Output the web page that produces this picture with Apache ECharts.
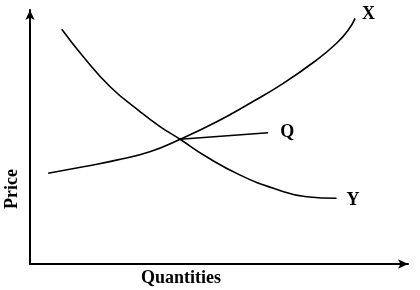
<!DOCTYPE html>
<html><head><meta charset="utf-8">
<script src="https://cdn.jsdelivr.net/npm/echarts@6/dist/echarts.min.js"></script>
<style>html,body{margin:0;padding:0;background:#fff}#c{width:420px;height:290px}</style>
</head><body><div id="c"></div>
<script>
// Supply curve X: [quantity, price]
const supplyX = [[4.8,35.7],[14.1,38.3],[22.9,40.9],[31.7,44.2],[39.7,49.1],[49.4,56.0],[58.2,63.3],[67.0,71.1],[75.8,80.3],[81.1,86.9],[84.2,92.1],[86.0,96.7]];
// Demand curve Y
const demandY = [[8.4,92.4],[14.1,81.6],[21.2,69.8],[29.1,60.0],[34.4,54.1],[39.7,49.1],[46.7,42.2],[55.6,35.0],[64.4,29.8],[73.2,26.5],[81.1,25.9]];
// Line Q from the intersection
const lineQ = [[39.7,49.1],[63.0,51.7]];
const names = ['X','Y','Q'];
const axisNames = ['Quantities','Price'];

const font = '"Liberation Serif","Times New Roman",serif';
const chart = echarts.init(document.getElementById('c'));
function mk(name, data, smooth, off){
  return {name:name,type:'line',data:data,smooth:smooth,symbol:'none',
    lineStyle:{color:'#000',width:1.6},
    endLabel:{show:true,formatter:'{a}',color:'#000',fontFamily:font,fontWeight:'bold',fontSize:18,offset:off,distance:4}};
}
chart.setOption({
  animation:false,
  grid:{left:30,right:12,top:10,bottom:26},
  xAxis:{type:'value',min:0,max:100,axisLine:{show:true,lineStyle:{color:'#000',width:2},symbol:['none','arrow'],symbolSize:[7,10]},
    axisTick:{show:false},axisLabel:{show:false},splitLine:{show:false}},
  yAxis:{type:'value',min:0,max:100,axisLine:{show:true,lineStyle:{color:'#000',width:2},symbol:['none','arrow'],symbolSize:[7,10]},
    axisTick:{show:false},axisLabel:{show:false},splitLine:{show:false}},
  series:[mk(names[0],supplyX,0.5,[3,-4]), mk(names[1],demandY,0.5,[6,2]), mk(names[2],lineQ,false,[8,0])],
  graphic:[
    {type:'text',x:181,y:278,style:{text:axisNames[0],font:'bold 18px '+font,fill:'#000',textAlign:'center',textVerticalAlign:'middle'}},
    {type:'text',x:12,y:189,rotation:Math.PI/2,style:{text:axisNames[1],font:'bold 18px '+font,fill:'#000',textAlign:'center',textVerticalAlign:'middle'}}
  ]
});
</script></body></html>
